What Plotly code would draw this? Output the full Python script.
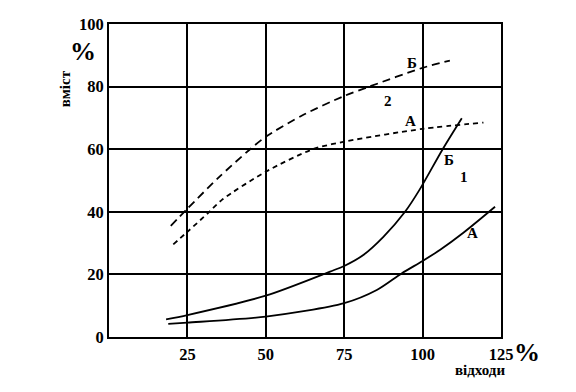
import plotly.graph_objects as go

# Data
x_2b = [19.7, 25, 35, 45, 50, 62, 75, 83, 100, 108.7]
y_2b = [35.5, 41, 51, 60, 64, 71, 77, 80, 86, 88.3]

x_2a = [20.5, 25, 32, 36, 50, 65, 75, 100, 119.4]
y_2a = [29.6, 33.6, 40, 43.8, 52.8, 60, 62.4, 66.5, 68.5]

x_1b = [18.2, 25, 50, 70.5, 75, 81.1, 87.5, 94.4, 99, 106.4, 112.5]
y_1b = [5.6, 7.0, 13.2, 20.9, 22.7, 26.2, 32, 40, 47, 60, 69.9]

x_1a = [18.9, 25, 50, 75, 85.4, 93.3, 100, 105.5, 113, 123.1]
y_1a = [4.2, 4.6, 6.5, 10.8, 15, 20.3, 24.3, 27.8, 33.3, 41.6]

x_ticks = [25, 50, 75, 100, 125]
y_ticks = [0, 20, 40, 60, 80, 100]

curve_labels = ["Б", "2", "А", "Б", "1", "А"]
label_x = [96.5, 89.1, 96, 108.4, 113.3, 116]
label_y = [87.6, 75.4, 69.1, 56.5, 51, 33.1]

FONT = "Liberation Serif, Times New Roman, serif"

fig = go.Figure()
fig.add_trace(go.Scatter(x=x_2b, y=y_2b, mode="lines",
                         line=dict(color="black", width=1.8, dash="8px,5px", shape="spline", smoothing=0.8)))
fig.add_trace(go.Scatter(x=x_2a, y=y_2a, mode="lines",
                         line=dict(color="black", width=1.8, dash="5px,4px", shape="spline", smoothing=0.8)))
fig.add_trace(go.Scatter(x=x_1b, y=y_1b, mode="lines",
                         line=dict(color="black", width=1.8, shape="spline", smoothing=0.8)))
fig.add_trace(go.Scatter(x=x_1a, y=y_1a, mode="lines",
                         line=dict(color="black", width=1.8, shape="spline", smoothing=0.8)))

for t, lx, ly in zip(curve_labels, label_x, label_y):
    fig.add_annotation(x=lx, y=ly, text=t, showarrow=False, xanchor="center", yanchor="middle",
                       font=dict(family=FONT, size=15, color="black", weight="bold"))

fig.add_annotation(xref="paper", yref="paper", x=-0.067, y=0.911, text="%", showarrow=False,
                   xanchor="center", yanchor="middle",
                   font=dict(family=FONT, size=26, color="black", weight="bold"))
fig.add_annotation(xref="paper", yref="paper", x=-0.112, y=0.792, text="вміст", showarrow=False,
                   xanchor="center", yanchor="middle", textangle=-90,
                   font=dict(family=FONT, size=15, color="black", weight="bold"))
fig.add_annotation(xref="paper", yref="paper", x=1.066, y=-0.05, text="%", showarrow=False,
                   xanchor="center", yanchor="middle",
                   font=dict(family=FONT, size=26, color="black", weight="bold"))
fig.add_annotation(xref="paper", yref="paper", x=0.946, y=-0.105, text="відходи", showarrow=False,
                   xanchor="center", yanchor="middle",
                   font=dict(family=FONT, size=15, color="black", weight="bold"))

fig.update_layout(
    width=576, height=392,
    margin=dict(l=109, r=75, t=24, b=55),
    paper_bgcolor="white", plot_bgcolor="white",
    showlegend=False,
    font=dict(family=FONT, color="black"),
)
fig.update_xaxes(range=[0, 125], tickvals=x_ticks, ticktext=[str(v) for v in x_ticks],
                 showgrid=True, gridcolor="black", gridwidth=2,
                 showline=True, linecolor="black", linewidth=2, mirror=True,
                 zeroline=False, ticks="", ticklabelstandoff=1,
                 tickfont=dict(family=FONT, size=16.5, color="black", weight="bold"))
fig.update_yaxes(range=[0, 100], tickvals=y_ticks, ticktext=[str(v) for v in y_ticks],
                 showgrid=True, gridcolor="black", gridwidth=2,
                 showline=True, linecolor="black", linewidth=2, mirror=True,
                 zeroline=False, ticks="", ticklabelstandoff=0,
                 tickfont=dict(family=FONT, size=16.5, color="black", weight="bold"))

fig.write_html("out.html", config={"displayModeBar": False},
               post_script="document.body.style.margin='0';document.body.style.padding='0';")
